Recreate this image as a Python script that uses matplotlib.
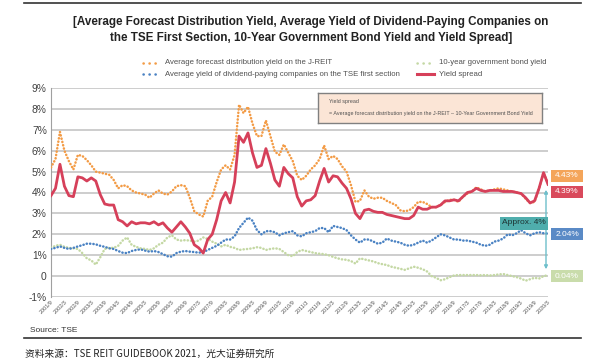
import numpy as np
import pandas as pd
import matplotlib
matplotlib.use("Agg")
import matplotlib.pyplot as plt
from matplotlib.lines import Line2D
from matplotlib.patches import Rectangle, FancyArrowPatch

# bimonthly readings, 2001/9 .. 2020/3
dates = pd.date_range("2001-09-01", "2020-03-01", freq="2MS")

jreit_yield = [
    5.2, 5.6, 6.9, 6.0, 5.5, 5.1, 5.8, 5.75, 5.55, 5.3,
    5.0, 4.95, 4.9, 4.85, 4.6, 4.2, 4.35, 4.3, 4.1, 4.0,
    3.95, 3.9, 3.75, 3.95, 4.1, 3.95, 3.9, 4.05, 4.3, 4.35,
    4.3, 3.75, 3.1, 2.95, 2.85, 3.6, 3.8, 4.5, 5.1, 5.3,
    5.1, 5.8, 8.2, 7.8, 8.1, 7.3, 6.7, 6.7, 7.45, 6.7,
    5.95, 5.8, 6.3, 5.9, 5.5, 4.8, 4.6, 4.8, 5.1, 5.3,
    5.6, 6.25, 5.6, 5.75, 5.6, 5.25, 5.0, 4.35, 3.55, 3.6,
    4.1, 3.8, 3.7, 3.75, 3.75, 3.6, 3.5, 3.4, 3.15, 3.1,
    3.15, 3.3, 3.55, 3.55, 3.45, 3.3, 3.3, 3.4, 3.55, 3.65,
    3.65, 3.55, 3.8, 3.95, 4.05, 4.25, 4.15, 4.05, 4.1, 4.15,
    4.2, 4.15, 4.1, 4.05, 4.0, 3.95, 3.7, 3.5, 3.55, 4.2,
    4.95, 4.43]

spread = [
    3.85, 4.2, 5.35, 4.3, 3.85, 3.8, 4.75, 4.7, 4.55, 4.7,
    4.55, 3.9, 3.45, 3.4, 3.4, 2.7, 2.6, 2.4, 2.6, 2.5,
    2.55, 2.55, 2.5, 2.6, 2.45, 2.55, 2.3, 2.1, 2.35, 2.6,
    2.35, 2.05, 1.5, 1.35, 1.1, 1.75, 2.0, 2.7, 3.6, 4.0,
    3.5, 4.5, 6.7, 6.4, 6.85, 5.9, 5.2, 5.3, 6.1, 5.4,
    4.6, 4.3, 5.2, 4.9, 4.7, 3.8, 3.35, 3.6, 3.65, 3.85,
    4.55, 5.15, 4.5, 4.8, 4.75, 4.45, 4.2, 3.7, 3.0, 2.75,
    3.15, 3.2, 3.1, 3.05, 3.05, 2.95, 2.9, 2.85, 2.8, 2.75,
    2.75, 2.9, 3.3, 3.2, 3.2, 3.3, 3.3, 3.4, 3.6, 3.6,
    3.65, 3.6, 3.8, 4.0, 4.05, 4.2, 4.1, 4.05, 4.1, 4.1,
    4.1, 4.05, 4.05, 4.05, 4.0, 3.95, 3.75, 3.5, 3.6, 4.2,
    4.95, 4.39]

tse_div_yield = [
    1.3, 1.35, 1.42, 1.35, 1.3, 1.35, 1.42, 1.48, 1.55, 1.55,
    1.52, 1.45, 1.4, 1.33, 1.3, 1.2, 1.12, 1.1, 1.2, 1.25,
    1.28, 1.22, 1.17, 1.2, 1.15, 1.05, 0.95, 0.93, 1.1, 1.17,
    1.2, 1.17, 1.15, 1.12, 1.15, 1.25, 1.35, 1.45, 1.6, 1.75,
    1.75, 1.9, 2.3, 2.55, 2.8, 2.65, 2.2, 2.0, 2.15, 2.15,
    2.1, 1.95, 2.05, 2.1, 2.15, 1.95, 1.9, 2.05, 2.1, 2.15,
    2.3, 2.3, 2.1, 2.4, 2.35, 2.3, 2.2, 1.95, 1.75, 1.6,
    1.75, 1.75, 1.65, 1.55, 1.6, 1.8, 1.7, 1.65, 1.6, 1.5,
    1.45, 1.5, 1.6, 1.7, 1.6, 1.7, 1.85, 2.0, 1.95, 1.85,
    1.75, 1.75, 1.7, 1.7, 1.65, 1.6, 1.5, 1.45, 1.5, 1.65,
    1.7, 1.8, 2.0, 1.95, 2.05, 2.2, 2.05, 1.95, 2.05, 2.1,
    2.05, 2.04]

jgb_10y = [
    1.35, 1.45, 1.5, 1.4, 1.35, 1.33, 1.3, 1.1, 0.85, 0.75,
    0.55, 0.9, 1.3, 1.35, 1.35, 1.45, 1.7, 1.85, 1.5, 1.4,
    1.33, 1.3, 1.25, 1.33, 1.5, 1.6, 1.85, 1.95, 1.75, 1.7,
    1.72, 1.7, 1.65, 1.7, 1.85, 1.78, 1.65, 1.55, 1.42, 1.5,
    1.4, 1.35, 1.25, 1.28, 1.3, 1.33, 1.38, 1.35, 1.25, 1.3,
    1.33, 1.3, 1.15, 1.0, 0.95, 1.15, 1.25, 1.2, 1.15, 1.1,
    1.07, 1.05, 1.0, 0.92, 0.85, 0.8, 0.78, 0.72, 0.6, 0.85,
    0.8, 0.75, 0.7, 0.62, 0.57, 0.53, 0.45, 0.4, 0.35, 0.3,
    0.37, 0.45, 0.4, 0.33, 0.22, 0.0, -0.08, -0.2, -0.15, -0.05,
    0.03, 0.05, 0.05, 0.05, 0.05, 0.05, 0.04, 0.05, 0.03, 0.05,
    0.08, 0.1, 0.05, 0.0, -0.05, -0.12, -0.22, -0.15, -0.08, -0.12,
    0.0, 0.04]

end_labels = ["4.43%", "4.39%", "2.04%", "0.04%"]
y_ticks = [-1, 0, 1, 2, 3, 4, 5, 6, 7, 8, 9]
y_ticklabels = ["-1%", "0", "1%", "2%", "3%", "4%", "5%", "6%", "7%", "8%", "9%"]

ORANGE = "#F39B45"
RED = "#D6405A"
BLUE = "#4A82C3"
GREEN = "#C4D8A4"
SANS = ["Liberation Sans", "DejaVu Sans"]
CJK = ["Noto Sans CJK SC", "DejaVu Sans"]

W, H = 593, 363


def px(x, y):
    return x / W, 1 - y / H


fig = plt.figure(figsize=(W / 100, H / 100), dpi=100)
ax = fig.add_axes([51 / W, 1 - 297 / H, (548 - 51) / W, (297 - 88) / H])

m = np.array([(d.year - 2001) * 12 + d.month - 9 for d in dates])
dots = (0, (0.1, 1.25))

ax.plot(m, jgb_10y, color=GREEN, lw=1.8, ls=dots, dash_capstyle="round", zorder=3)
ax.plot(m, tse_div_yield, color=BLUE, lw=1.8, ls=dots, dash_capstyle="round", zorder=3)
ax.plot(m, jreit_yield, color=ORANGE, lw=1.8, ls=dots, dash_capstyle="round", zorder=3)
ax.plot(m, spread, color=RED, lw=2.0, zorder=4)

ax.set_xlim(0, m[-1])
ax.set_ylim(-1, 9)
ax.set_yticks(y_ticks)
ax.set_yticklabels(y_ticklabels, fontsize=7.4, color="#404040", family=SANS)
ax.grid(axis="y", color="#C0C0C0", lw=1.1)
ax.set_axisbelow(True)
for s in ["top", "right", "bottom"]:
    ax.spines[s].set_visible(False)
ax.spines["left"].set_color("#A0A0A0")
ax.tick_params(axis="y", length=0, pad=3)

tick_m = np.arange(0, m[-1] + 1, 6)
tick_lab = [f"{2001 + (9 + t - 1) // 12}/{(9 + t - 1) % 12 + 1}" for t in tick_m]
ax.set_xticks(tick_m)
ax.set_xticklabels(tick_lab, rotation=45, ha="right", rotation_mode="anchor",
                   fontsize=3.9, color="#505050", family=SANS)
ax.tick_params(axis="x", length=0, pad=2)

# annotation box
box_ax = fig.add_axes([318 / W, 1 - 123 / H, (542 - 318) / W, (123 - 93) / H])
box_ax.set_xticks([]); box_ax.set_yticks([])
box_ax.set_facecolor("#FBE5D6")
for s in box_ax.spines.values():
    s.set_color("#808080"); s.set_linewidth(1)
box_ax.text(0.05, 0.7, "Yield spread", fontsize=3.9, family=SANS, color="#505050", va="center")
box_ax.text(0.05, 0.3, "= Average forecast distribution yield on the J-REIT \u2013 10-Year Government Bond Yield",
            fontsize=3.9, family=SANS, color="#505050", va="center")

# end-value tags
tag_colors = ["#F4A55A", "#D94A5C", "#5A8AC6", "#C9DCAB"]
tag_y = [175.5, 191.5, 234, 276]
for lab, c, yy in zip(end_labels, tag_colors, tag_y):
    fig.patches.append(Rectangle(px(551, yy + 6), 32 / W, 12 / H, transform=fig.transFigure,
                                 facecolor=c, edgecolor="none"))
    fig.text(*px(567, yy), lab, color="white", fontsize=6.0, family=SANS, ha="center", va="center")

# approx arrow
arr = FancyArrowPatch(px(546, 272), px(546, 187), transform=fig.transFigure, arrowstyle="<|-|>",
                      mutation_scale=5, color="#6DBFCB", lw=1)
fig.patches.append(arr)
fig.patches.append(Rectangle(px(500, 229.5), 48 / W, 13 / H, transform=fig.transFigure,
                             facecolor="#4FADAC", edgecolor="none", zorder=5))
fig.text(*px(524, 223), "Approx. 4%", color="#1E3333", fontsize=6.0, family=SANS,
         ha="center", va="center", zorder=6)

# legend
def leg(x, y, color, text, solid=False):
    if solid:
        ln = Line2D([x / W, (x + 17) / W], [1 - y / H] * 2, color=color, lw=2.2, transform=fig.transFigure)
    else:
        ln = Line2D([x / W, (x + 17) / W], [1 - y / H] * 2, color=color, lw=1.8, ls=(0, (0.1, 2.3)),
                    dash_capstyle="round", transform=fig.transFigure)
    fig.lines.append(ln)
    fig.text(*px(x + 22, y), text, fontsize=5.6, family=SANS, color="#505050", va="center")

leg(143, 63, ORANGE, "Average forecast distribution yield on the J-REIT")
leg(143, 74, BLUE, "Average yield of dividend-paying companies on the TSE first section")
leg(417, 63, GREEN, "10-year government bond yield")
leg(417, 74, RED, "Yield spread", solid=True)

# title
fig.text(*px(311, 22), "[Average Forecast Distribution Yield, Average Yield of Dividend-Paying Companies on",
         fontsize=8.4, fontweight="bold", family=SANS, color="#222222", ha="center", va="center")
fig.text(*px(311, 38), "the TSE First Section, 10-Year Government Bond Yield and Yield Spread]",
         fontsize=8.4, fontweight="bold", family=SANS, color="#222222", ha="center", va="center")

# frame lines and source
fig.lines.append(Line2D([24 / W, 581 / W], [1 - 3 / H] * 2, color="#333333", lw=1.2, transform=fig.transFigure))
fig.lines.append(Line2D([24 / W, 581 / W], [1 - 338 / H] * 2, color="#333333", lw=1.2, transform=fig.transFigure))
fig.text(*px(30, 331), "Source: TSE", fontsize=6.0, family=SANS, color="#333333", va="center")
fig.text(*px(25, 354), "资料来源：TSE REIT GUIDEBOOK 2021，光大证券研究所", fontsize=7, family=CJK,
         color="#222222", va="center")

fig.savefig("out.png", dpi=100)
